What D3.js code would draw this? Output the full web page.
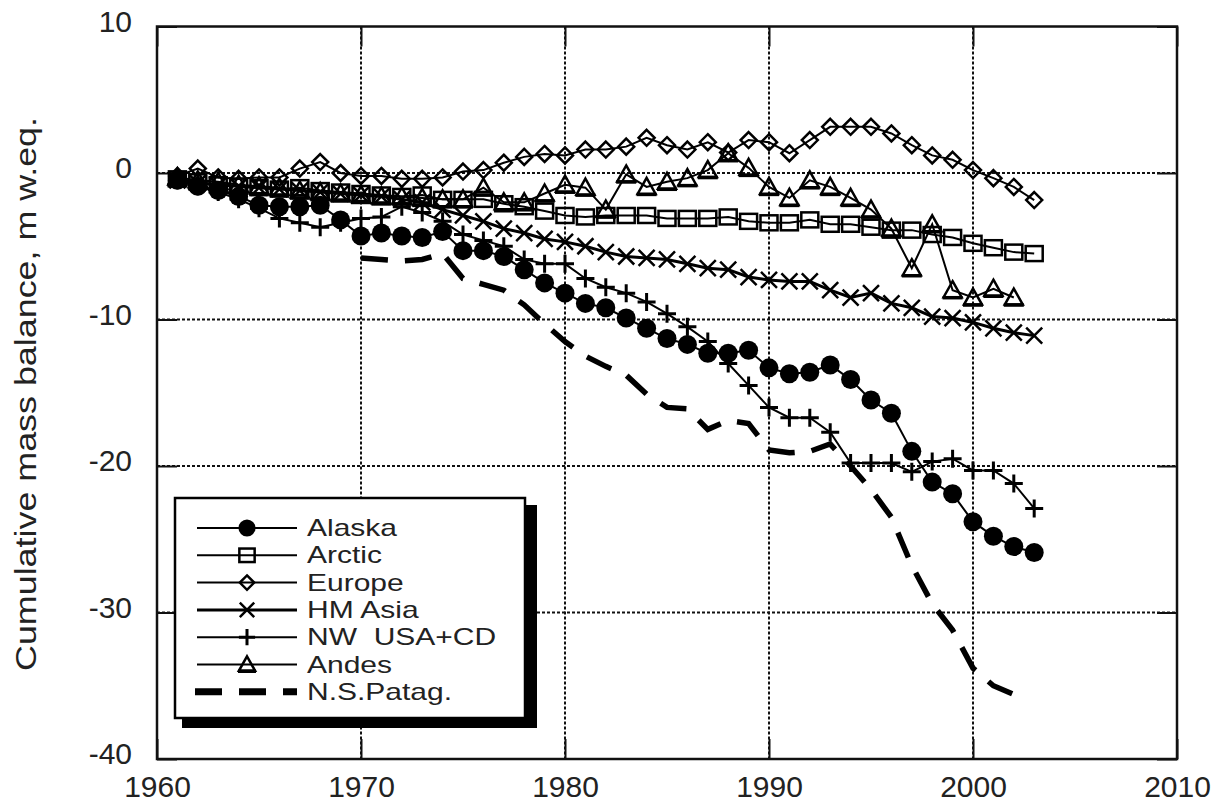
<!DOCTYPE html>
<html>
<head>
<meta charset="utf-8">
<script src="https://cdn.jsdelivr.net/npm/d3@7"></script>
<style>
  body { margin: 0; background: #fff; }
  svg { display: block; font-family: "Liberation Sans", Arial, sans-serif; }
  .grid line { stroke: #111; stroke-width: 2; stroke-dasharray: 3,2; }
  .axis text { fill: #222; }
  .axis line { stroke: #111; stroke-width: 2; }
</style>
</head>
<body>
<div id="chart"></div>
<script>
var svgWidth = 1225;
var svgHeight = 806;

// data (m w.eq.)
var years = [1961, 1962, 1963, 1964, 1965, 1966, 1967, 1968, 1969, 1970,
  1971, 1972, 1973, 1974, 1975, 1976, 1977, 1978, 1979, 1980,
  1981, 1982, 1983, 1984, 1985, 1986, 1987, 1988, 1989, 1990,
  1991, 1992, 1993, 1994, 1995, 1996, 1997, 1998, 1999, 2000,
  2001, 2002, 2003];
var patagYears = [1970, 1971, 1972, 1973, 1974, 1975, 1976, 1977, 1978, 1979,
  1980, 1981, 1982, 1983, 1984, 1985, 1986, 1987, 1988, 1989,
  1990, 1991, 1992, 1993, 1994, 1995, 1996, 1997, 1998, 1999,
  2000, 2001, 2002];

var alaska = [-0.5, -0.9, -1.2, -1.6, -2.2, -2.3, -2.3, -2.2, -3.2, -4.3,
  -4.1, -4.3, -4.4, -4.0, -5.3, -5.3, -5.7, -6.6, -7.5, -8.2,
  -8.9, -9.2, -9.9, -10.6, -11.3, -11.7, -12.3, -12.3, -12.1, -13.3,
  -13.7, -13.6, -13.1, -14.1, -15.5, -16.4, -19.0, -21.1, -21.9, -23.8,
  -24.8, -25.5, -25.9];
var arctic = [-0.4, -0.6, -0.8, -0.9, -1.0, -1.1, -1.0, -1.2, -1.3, -1.4,
  -1.5, -1.6, -1.5, -1.8, -1.8, -1.8, -2.1, -2.3, -2.6, -2.9,
  -3.0, -2.9, -2.9, -2.9, -3.1, -3.1, -3.1, -3.0, -3.3, -3.4,
  -3.4, -3.2, -3.5, -3.5, -3.7, -3.9, -3.9, -4.2, -4.4, -4.8,
  -5.1, -5.4, -5.5];
var europe = [-0.2, 0.3, -0.3, -0.4, -0.3, -0.3, 0.3, 0.75, 0.0, -0.2,
  -0.2, -0.4, -0.4, -0.3, 0.1, 0.2, 0.7, 1.1, 1.3, 1.2,
  1.6, 1.6, 1.8, 2.4, 1.9, 1.6, 2.1, 1.4, 2.25, 2.1,
  1.35, 2.25, 3.15, 3.15, 3.15, 2.7, 1.9, 1.2, 0.9, 0.2,
  -0.35, -0.95, -1.85];
var hmAsia = [-0.5, -0.7, -0.8, -0.9, -1.0, -1.1, -1.2, -1.3, -1.4, -1.5,
  -1.6, -1.8, -2.0, -2.5, -2.9, -3.3, -3.8, -4.1, -4.5, -4.7,
  -5.0, -5.4, -5.7, -5.8, -5.9, -6.2, -6.5, -6.6, -7.1, -7.3,
  -7.4, -7.4, -8.0, -8.5, -8.2, -8.9, -9.2, -9.8, -9.9, -10.2,
  -10.6, -10.9, -11.1];
var nwUsa = [-0.5, -0.9, -1.3, -1.8, -2.4, -3.1, -3.4, -3.7, -3.4, -3.1,
  -3.0, -2.3, -2.7, -3.3, -4.2, -4.6, -5.0, -5.9, -6.2, -6.2,
  -7.2, -7.8, -8.2, -8.8, -9.6, -10.5, -11.5, -13.0, -14.5, -16.0,
  -16.7, -16.7, -17.7, -19.8, -19.8, -19.8, -20.4, -19.7, -19.5, -20.3,
  -20.3, -21.2, -22.9];
var andes = [-0.3, -0.5, -0.6, -0.8, -0.9, -1.0, -1.2, -1.3, -1.4, -1.5,
  -1.6, -1.6, -1.7, -1.8, -1.8, -1.0, -2.0, -2.0, -1.4, -0.8,
  -1.0, -2.5, -0.1, -0.95, -0.6, -0.35, 0.2, 1.35, 0.35, -0.95,
  -1.7, -0.5, -0.95, -1.7, -2.5, -3.8, -6.5, -3.5, -8.0, -8.5,
  -7.9, -8.5];
var patag = [-5.8, -5.9, -6.0, -5.9, -5.5, -7.2, -7.6, -8.0, -9.0, -10.3,
  -11.5, -12.5, -13.2, -13.8, -15.1, -16.0, -16.1, -17.5, -16.9, -17.1,
  -18.9, -19.1, -19.0, -18.5, -20.0, -21.6, -23.5, -26.8, -29.4, -31.2,
  -33.8, -35.0, -35.6];

var seriesNames = ["Alaska", "Arctic", "Europe", "HM Asia", "NW  USA+CD", "Andes", "N.S.Patag."];
var xTicks = [1960, 1970, 1980, 1990, 2000, 2010];
var yTicks = [10, 0, -10, -20, -30, -40];

var series = [
  { name: seriesNames[0], x: years, y: alaska, marker: "circle", width: 2 },
  { name: seriesNames[1], x: years, y: arctic, marker: "square", width: 2 },
  { name: seriesNames[2], x: years, y: europe, marker: "diamond", width: 2 },
  { name: seriesNames[3], x: years, y: hmAsia, marker: "times", width: 3 },
  { name: seriesNames[4], x: years, y: nwUsa, marker: "plus", width: 2 },
  { name: seriesNames[5], x: years.slice(0, andes.length), y: andes, marker: "triangle", width: 2 },
  { name: seriesNames[6], x: patagYears, y: patag, marker: null, width: 5.5, dash: "27,17" }
];

var svg = d3.select("#chart")
  .append("svg")
  .attr("width", svgWidth)
  .attr("height", svgHeight);

var x = d3.scaleLinear().domain([1960, 2010]).range([157, 1177]);
var y = d3.scaleLinear().domain([-40, 10]).range([759, 26.5]);

// plain hyphen minus, as in the original figure
var fmt = d => String(d);

// dotted grid
var grid = svg.append("g").attr("class", "grid");
grid.selectAll(".vg")
  .data(xTicks.slice(1, -1))
  .enter().append("line")
  .attr("x1", d => x(d)).attr("x2", d => x(d))
  .attr("y1", y(10)).attr("y2", y(-40));
grid.selectAll(".hg")
  .data(yTicks.slice(1, -1))
  .enter().append("line")
  .attr("x1", x(1960)).attr("x2", x(2010))
  .attr("y1", d => y(d)).attr("y2", d => y(d));

// axes, ticks pointing inward
var leftAxis = svg.append("g")
  .attr("class", "axis")
  .attr("transform", `translate(${x(1960)},0)`)
  .call(d3.axisLeft(y).tickValues(yTicks).tickSize(-20).tickPadding(25).tickFormat(fmt));
leftAxis.selectAll("text").attr("y", -5).style("font-size", "30px");

var bottomAxis = svg.append("g")
  .attr("class", "axis")
  .attr("transform", `translate(0,${y(-40)})`)
  .call(d3.axisBottom(x).tickValues(xTicks).tickSize(-20).tickPadding(17).tickFormat(fmt));
bottomAxis.selectAll("text").style("font-size", "30px");

svg.append("g")
  .attr("class", "axis")
  .attr("transform", `translate(${x(2010)},0)`)
  .call(d3.axisRight(y).tickValues(yTicks).tickSize(-20).tickFormat(""));
svg.append("g")
  .attr("class", "axis")
  .attr("transform", `translate(0,${y(10)})`)
  .call(d3.axisTop(x).tickValues(xTicks).tickSize(-20).tickFormat(""));
svg.selectAll(".axis .domain").remove();

// frame
svg.append("rect")
  .attr("x", x(1960)).attr("y", y(10))
  .attr("width", x(2010) - x(1960)).attr("height", y(-40) - y(10))
  .attr("fill", "none").attr("stroke", "#111").attr("stroke-width", 2.5);

// y axis title
svg.append("text")
  .attr("transform", "translate(36,394) rotate(-90)")
  .attr("text-anchor", "middle")
  .attr("textLength", 554)
  .attr("lengthAdjust", "spacingAndGlyphs")
  .style("font-size", "30px")
  .style("fill", "#222")
  .text("Cumulative mass balance, m w.eq.");

function drawMarker(g, type, cx, cy, s) {
  var k = s || 1;
  if (type === "circle") {
    g.append("circle").attr("cx", cx).attr("cy", cy).attr("r", 9.5 * k).attr("fill", "#000");
  } else if (type === "square") {
    g.append("rect").attr("x", cx - 8.5 * k).attr("y", cy - 7.5 * k)
      .attr("width", 17 * k).attr("height", 15 * k)
      .attr("fill", "none").attr("stroke", "#000").attr("stroke-width", 2.5);
  } else if (type === "diamond") {
    g.append("path")
      .attr("d", `M${cx},${cy - 8 * k}L${cx + 8 * k},${cy}L${cx},${cy + 8 * k}L${cx - 8 * k},${cy}Z`)
      .attr("fill", "none").attr("stroke", "#000").attr("stroke-width", 2.5);
  } else if (type === "times") {
    g.append("path")
      .attr("d", `M${cx - 8 * k},${cy - 8 * k}L${cx + 8 * k},${cy + 8 * k}M${cx - 8 * k},${cy + 8 * k}L${cx + 8 * k},${cy - 8 * k}`)
      .attr("stroke", "#000").attr("stroke-width", 2.5);
  } else if (type === "plus") {
    g.append("path")
      .attr("d", `M${cx - 9 * k},${cy}H${cx + 9 * k}M${cx},${cy - 9 * k}V${cy + 9 * k}`)
      .attr("stroke", "#000").attr("stroke-width", 3);
  } else if (type === "triangle") {
    g.append("path")
      .attr("d", `M${cx},${cy - 9 * k}L${cx + 9 * k},${cy + 7 * k}L${cx - 9 * k},${cy + 7 * k}Z`)
      .attr("fill", "none").attr("stroke", "#000").attr("stroke-width", 2.5).attr("stroke-linejoin", "miter");
    g.append("line")
      .attr("x1", cx - 10 * k).attr("x2", cx + 10 * k)
      .attr("y1", cy + 7.5 * k).attr("y2", cy + 7.5 * k)
      .attr("stroke", "#000").attr("stroke-width", 3.5);
  }
}

var line = d3.line()
  .x(d => x(d[0]))
  .y(d => y(d[1]));

var plot = svg.append("g");
series.forEach(function(s) {
  var pts = s.x.map((yr, i) => [yr, s.y[i]]);
  plot.append("path")
    .datum(pts)
    .attr("d", line)
    .attr("fill", "none")
    .attr("stroke", "#000")
    .attr("stroke-width", s.width)
    .attr("stroke-dasharray", s.dash || null);
  if (s.marker) {
    var mg = plot.append("g");
    pts.forEach(p => drawMarker(mg, s.marker, x(p[0]), y(p[1])));
  }
});

// legend with drop shadow
var legend = svg.append("g");
legend.append("rect")
  .attr("x", 182).attr("y", 505).attr("width", 355).attr("height", 223)
  .attr("fill", "#000");
legend.append("rect")
  .attr("x", 175).attr("y", 498).attr("width", 350).attr("height", 220)
  .attr("fill", "#fff").attr("stroke", "#000").attr("stroke-width", 2.5);

series.forEach(function(s, i) {
  var ly = 528 + i * 27.3;
  legend.append("line")
    .attr("x1", s.dash ? 195 : 197).attr("x2", 297)
    .attr("y1", ly).attr("y2", ly)
    .attr("stroke", "#000")
    .attr("stroke-width", s.dash ? 7 : s.width)
    .attr("stroke-dasharray", s.dash || null);
  if (s.marker) drawMarker(legend, s.marker, 247, ly, 0.9);
  // the original legend lettering is wide, so stretch it sideways
  legend.append("text")
    .attr("transform", `translate(307,${ly + 8}) scale(1.25,1)`)
    .style("font-size", "24px")
    .style("white-space", "pre")
    .style("fill", "#222")
    .text(s.name);
});
</script>
</body>
</html>
